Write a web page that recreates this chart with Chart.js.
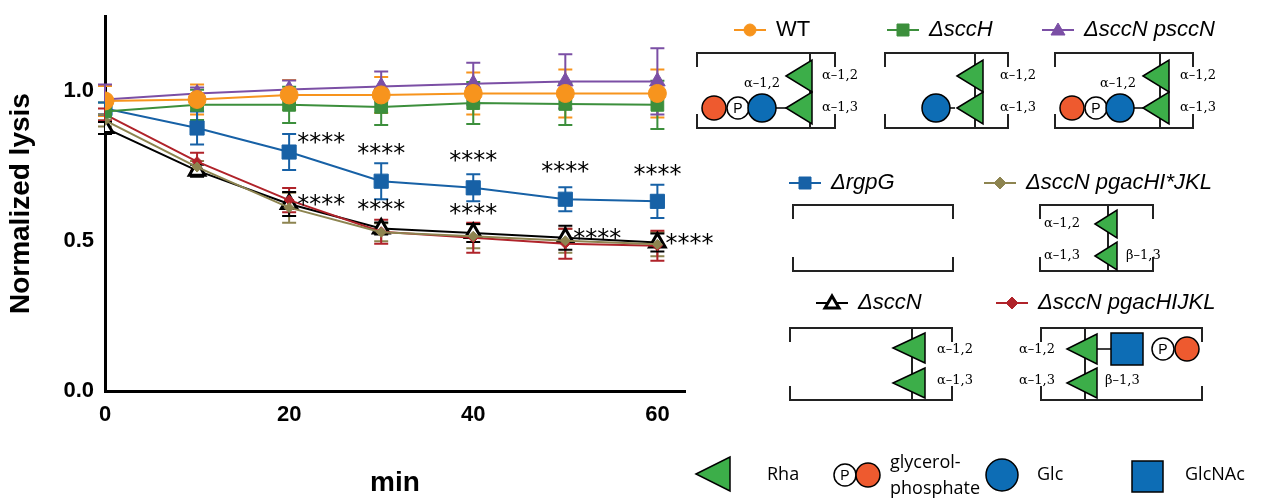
<!DOCTYPE html>
<html>
<head>
<meta charset="utf-8">
<script src="https://cdn.jsdelivr.net/npm/chart.js@4/dist/chart.umd.min.js"></script>
<style>
  html, body { margin: 0; padding: 0; background: #fff; }
  #wrap { width: 1280px; height: 504px; position: relative; }
</style>
</head>
<body>
<div id="wrap"><canvas id="chart" width="1280" height="504"></canvas></div>
<script>
// 시간 (min)
const minutes = [0, 10, 20, 30, 40, 50, 60];

// 각 균주의 값과 오차
const wt = [0.965, 0.97, 0.985, 0.985, 0.99, 0.99, 0.99];
const wtErr = [0.05, 0.05, 0.05, 0.06, 0.07, 0.08, 0.08];
const sccH = [0.93, 0.952, 0.952, 0.945, 0.958, 0.955, 0.952];
const sccHErr = [0.03, 0.05, 0.06, 0.06, 0.07, 0.07, 0.08];
const psccN = [0.97, 0.99, 1.003, 1.013, 1.022, 1.03, 1.03];
const psccNErr = [0.05, 0.02, 0.03, 0.05, 0.07, 0.09, 0.11];
const rgpG = [0.94, 0.875, 0.795, 0.698, 0.676, 0.638, 0.631];
const rgpGErr = [0.02, 0.055, 0.06, 0.06, 0.045, 0.04, 0.055];
const hiStar = [0.9, 0.745, 0.61, 0.528, 0.515, 0.5, 0.488];
const hiStarErr = [0.02, 0.02, 0.05, 0.03, 0.04, 0.04, 0.04];
const sccN = [0.875, 0.733, 0.622, 0.541, 0.526, 0.51, 0.494];
const sccNErr = [0.02, 0.02, 0.04, 0.02, 0.03, 0.04, 0.03];
const hijkl = [0.92, 0.763, 0.635, 0.53, 0.51, 0.49, 0.483];
const hijklErr = [0.02, 0.03, 0.04, 0.04, 0.05, 0.05, 0.05];

// 별표 표시 위치 (rgpG, sccN)
const starRgpG = [20, 30, 40, 50, 60];
const starSccN = [20, 30, 40, 50, 60];

const GREEN = '#3cae49', BLUE = '#0d6db5', RED = '#ee5a2f';

function ds(label, data, err, color, style, radius, fill) {
    return {
        label, data, err,
        borderColor: color, backgroundColor: fill || color,
        pointBorderColor: style === 'triangle' && fill ? '#000' : color,
        pointStyle: style, pointRadius: radius, pointBorderWidth: fill ? 3 : 1,
        borderWidth: 2, tension: 0
    };
}

const datasets = [
    ds('WT', wt, wtErr, '#f7941d', 'circle', 9),
    ds('ΔsccH', sccH, sccHErr, '#3c8f3c', 'rect', 9),
    ds('ΔsccN psccN', psccN, psccNErr, '#7b4fa5', 'triangle', 9),
    ds('ΔrgpG', rgpG, rgpGErr, '#1761a6', 'rect', 10),
    ds('ΔsccN pgacHI*JKL', hiStar, hiStarErr, '#8d8450', 'rectRot', 5),
    ds('ΔsccN pgacHIJKL', hijkl, hijklErr, '#b0232a', 'rectRot', 5),
    ds('ΔsccN', sccN, sccNErr, '#000', 'triangle', 9, '#fff')
];

// 오차 막대 그리기
const errorBars = {
    id: 'errorBars',
    beforeDatasetsDraw(chart) {
        const ctx = chart.ctx, x = chart.scales.x, y = chart.scales.y;
        chart.data.datasets.forEach(d => {
            ctx.save();
            ctx.strokeStyle = d.borderColor;
            ctx.lineWidth = 2;
            d.data.forEach((p, i) => {
                const px = x.getPixelForValue(p.x);
                const top = y.getPixelForValue(p.y + d.err[i]);
                const bot = y.getPixelForValue(p.y - d.err[i]);
                ctx.beginPath();
                ctx.moveTo(px, top); ctx.lineTo(px, bot);
                ctx.moveTo(px - 7, top); ctx.lineTo(px + 7, top);
                ctx.moveTo(px - 7, bot); ctx.lineTo(px + 7, bot);
                ctx.stroke();
            });
            ctx.restore();
        });
    },
    afterDatasetsDraw(chart) {
        const ctx = chart.ctx, x = chart.scales.x, y = chart.scales.y;
        ctx.save();
        ctx.fillStyle = '#000';
        ctx.font = '24px "DejaVu Sans"';
        ctx.textBaseline = 'middle';
        starRgpG.forEach(m => {
            const i = minutes.indexOf(m);
            const px = x.getPixelForValue(m), py = y.getPixelForValue(rgpG[i]);
            if (m === 20) { ctx.textAlign = 'left'; ctx.fillText('****', px + 8, py - 8); }
            else { ctx.textAlign = 'center'; ctx.fillText('****', px, py - 26); }
        });
        starSccN.forEach(m => {
            const i = minutes.indexOf(m);
            const px = x.getPixelForValue(m), py = y.getPixelForValue(sccN[i]);
            if (m === 30 || m === 40) { ctx.textAlign = 'center'; ctx.fillText('****', px, py - 18); }
            else { ctx.textAlign = 'left'; ctx.fillText('****', px + 8, py + 2); }
        });
        ctx.restore();
    }
};

// 오른쪽 도식 그리기 함수들
function tri(ctx, tipX, cy, w, h) {
    ctx.beginPath();
    ctx.moveTo(tipX, cy); ctx.lineTo(tipX + w, cy - h / 2); ctx.lineTo(tipX + w, cy + h / 2); ctx.closePath();
    ctx.fillStyle = GREEN; ctx.fill(); ctx.lineWidth = 1.5; ctx.strokeStyle = '#000'; ctx.stroke();
}
function circ(ctx, cx, cy, r, fill, label) {
    ctx.beginPath(); ctx.arc(cx, cy, r, 0, Math.PI * 2);
    ctx.fillStyle = fill; ctx.fill(); ctx.lineWidth = 1.5; ctx.strokeStyle = '#000'; ctx.stroke();
    if (label) {
        ctx.fillStyle = '#000'; ctx.font = '14px "Liberation Sans"';
        ctx.textAlign = 'center'; ctx.textBaseline = 'middle'; ctx.fillText(label, cx, cy + 1);
    }
}
function sq(ctx, x, y, s) {
    ctx.fillStyle = BLUE; ctx.fillRect(x, y, s, s);
    ctx.lineWidth = 1.5; ctx.strokeStyle = '#000'; ctx.strokeRect(x, y, s, s);
}
function line(ctx, x1, y1, x2, y2) {
    ctx.beginPath(); ctx.moveTo(x1, y1); ctx.lineTo(x2, y2);
    ctx.lineWidth = 1.5; ctx.strokeStyle = '#000'; ctx.stroke();
}
function box(ctx, l, r, t, b, vx) {
    ctx.lineWidth = 2; ctx.strokeStyle = '#222';
    ctx.beginPath();
    ctx.moveTo(l, t + 14); ctx.lineTo(l, t); ctx.lineTo(r, t); ctx.lineTo(r, t + 14);
    ctx.moveTo(l, b - 14); ctx.lineTo(l, b); ctx.lineTo(r, b); ctx.lineTo(r, b - 14);
    if (vx) { ctx.moveTo(vx, t); ctx.lineTo(vx, b); }
    ctx.stroke();
}
function link(ctx, txt, x, y, align) {
    ctx.fillStyle = '#000'; ctx.font = '13px "DejaVu Serif"';
    ctx.textAlign = align || 'left'; ctx.textBaseline = 'middle'; ctx.fillText(txt, x, y);
}
function legendItem(ctx, x, y, color, shape, text, hollow) {
    ctx.beginPath(); ctx.moveTo(x - 16, y); ctx.lineTo(x + 16, y);
    ctx.strokeStyle = color; ctx.lineWidth = 2; ctx.stroke();
    ctx.fillStyle = hollow ? '#fff' : color; ctx.strokeStyle = hollow ? '#000' : color; ctx.lineWidth = hollow ? 3 : 1;
    ctx.beginPath();
    if (shape === 'circle') ctx.arc(x, y, 6, 0, Math.PI * 2);
    else if (shape === 'rect') ctx.rect(x - 6, y - 6, 12, 12);
    else if (shape === 'triangle') { ctx.moveTo(x, y - 7); ctx.lineTo(x + 7, y + 5); ctx.lineTo(x - 7, y + 5); ctx.closePath(); }
    else { ctx.moveTo(x, y - 6); ctx.lineTo(x + 6, y); ctx.lineTo(x, y + 6); ctx.lineTo(x - 6, y); ctx.closePath(); }
    ctx.fill(); ctx.stroke();
    ctx.fillStyle = '#000';
    ctx.font = (text === 'WT' ? '' : 'italic ') + '22px "Liberation Sans"';
    ctx.textAlign = 'left'; ctx.textBaseline = 'middle';
    ctx.fillText(text, x + 26, y);
}

const diagrams = {
    id: 'diagrams',
    afterDraw(chart) {
        const ctx = chart.ctx;
        ctx.save();
        const c = chart.data.datasets;
        legendItem(ctx, 750, 30, c[0].borderColor, 'circle', 'WT');
        legendItem(ctx, 903, 30, c[1].borderColor, 'rect', 'ΔsccH');
        legendItem(ctx, 1058, 30, c[2].borderColor, 'triangle', 'ΔsccN psccN');
        legendItem(ctx, 805, 183, c[3].borderColor, 'rect', 'ΔrgpG');
        legendItem(ctx, 1000, 183, c[4].borderColor, 'diamond', 'ΔsccN pgacHI*JKL');
        legendItem(ctx, 832, 303, c[6].borderColor, 'triangle', 'ΔsccN', true);
        legendItem(ctx, 1012, 303, c[5].borderColor, 'diamond', 'ΔsccN pgacHIJKL');

        // WT
        box(ctx, 697, 835, 53, 128, 810);
        line(ctx, 762, 108, 790, 108);
        tri(ctx, 786, 76, 26, 32); tri(ctx, 786, 108, 26, 32);
        circ(ctx, 714, 108, 12, RED); circ(ctx, 738, 108, 11, '#fff', 'P'); circ(ctx, 762, 108, 14, BLUE);
        link(ctx, 'α–1,2', 822, 76); link(ctx, 'α–1,3', 822, 108); link(ctx, 'α–1,2', 762, 84, 'center');
        // ΔsccH
        box(ctx, 885, 1008, 53, 128, 975);
        line(ctx, 936, 108, 955, 108);
        tri(ctx, 957, 76, 26, 32); tri(ctx, 957, 108, 26, 32);
        circ(ctx, 936, 108, 14, BLUE);
        link(ctx, 'α–1,2', 1000, 76); link(ctx, 'α–1,3', 1000, 108);
        // ΔsccN psccN
        box(ctx, 1055, 1193, 53, 128, 1160);
        line(ctx, 1120, 108, 1145, 108);
        tri(ctx, 1143, 76, 26, 32); tri(ctx, 1143, 108, 26, 32);
        circ(ctx, 1072, 108, 12, RED); circ(ctx, 1096, 108, 11, '#fff', 'P'); circ(ctx, 1120, 108, 14, BLUE);
        link(ctx, 'α–1,2', 1180, 76); link(ctx, 'α–1,3', 1180, 108); link(ctx, 'α–1,2', 1118, 84, 'center');
        // ΔrgpG
        box(ctx, 793, 953, 205, 271);
        // ΔsccN pgacHI*JKL
        box(ctx, 1040, 1153, 205, 271, 1108);
        tri(ctx, 1095, 224, 22, 28); tri(ctx, 1095, 256, 22, 28);
        link(ctx, 'α–1,2', 1044, 224); link(ctx, 'α–1,3', 1044, 256); link(ctx, 'β–1,3', 1126, 256);
        // ΔsccN
        box(ctx, 790, 952, 328, 400, 912);
        tri(ctx, 893, 348, 32, 30); tri(ctx, 893, 383, 32, 30);
        link(ctx, 'α–1,2', 937, 350); link(ctx, 'α–1,3', 937, 381);
        // ΔsccN pgacHIJKL
        box(ctx, 1041, 1202, 328, 400, 1085);
        line(ctx, 1097, 349, 1111, 349);
        tri(ctx, 1067, 349, 30, 30); tri(ctx, 1067, 383, 30, 30);
        sq(ctx, 1111, 333, 32);
        circ(ctx, 1163, 349, 11, '#fff', 'P'); circ(ctx, 1187, 349, 12, RED);
        link(ctx, 'α–1,2', 1055, 350, 'right'); link(ctx, 'α–1,3', 1055, 381, 'right'); link(ctx, 'β–1,3', 1105, 381);

        // 범례 (단당류)
        tri(ctx, 696, 474, 34, 34);
        ctx.fillStyle = '#000'; ctx.font = '18px "Open Sans"'; ctx.textAlign = 'left'; ctx.textBaseline = 'middle';
        ctx.fillText('Rha', 767, 475);
        circ(ctx, 845, 475, 11, '#fff', 'P'); circ(ctx, 868, 475, 12, RED);
        ctx.fillStyle = '#000'; ctx.font = '18px "Open Sans"'; ctx.textAlign = 'left';
        ctx.fillText('glycerol-', 890, 463); ctx.fillText('phosphate', 890, 489);
        circ(ctx, 1002, 475, 16, BLUE);
        ctx.fillStyle = '#000'; ctx.font = '18px "Open Sans"'; ctx.textAlign = 'left';
        ctx.fillText('Glc', 1037, 475);
        sq(ctx, 1132, 461, 31);
        ctx.fillStyle = '#000'; ctx.font = '18px "Open Sans"'; ctx.textAlign = 'left';
        ctx.fillText('GlcNAc', 1185, 475);
        ctx.restore();
    }
};

new Chart(document.getElementById('chart'), {
    type: 'line',
    data: {
        datasets: datasets.map(d => ({ ...d, data: d.data.map((v, i) => ({ x: minutes[i], y: v })) }))
    },
    options: {
        responsive: false,
        animation: false,
        layout: { padding: { top: 2, right: 595, left: 0, bottom: 0 } },
        plugins: { legend: { display: false }, tooltip: { enabled: false } },
        scales: {
            x: {
                type: 'linear', min: 0, max: 63,
                afterFit: s => { s.height = 113; },
                afterBuildTicks: s => { s.ticks = [0, 10, 20, 30, 40, 50, 60].map(v => ({ value: v })); },
                grid: { display: false, drawTicks: true, tickLength: 8, tickColor: '#000', tickWidth: 3 },
                border: { color: '#000', width: 3 },
                ticks: {
                    color: '#000', font: { size: 22, weight: 'bold', family: 'Liberation Sans' },
                    callback: v => v % 20 === 0 ? v : ''
                },
                title: { display: true, text: 'min', color: '#000', font: { size: 28, weight: 'bold', family: 'Liberation Sans' }, padding: { top: 18 } }
            },
            y: {
                min: 0, max: 1.247,
                afterFit: s => { s.width = 105; },
                afterBuildTicks: s => { s.ticks = [0, 0.5, 1].map(v => ({ value: v })); },
                grid: { display: false, drawTicks: true, tickLength: 8, tickColor: '#000', tickWidth: 3 },
                border: { color: '#000', width: 3 },
                ticks: { color: '#000', font: { size: 22, weight: 'bold', family: 'Liberation Sans' }, callback: v => v.toFixed(1) },
                title: { display: true, text: 'Normalized lysis', color: '#000', font: { size: 28, weight: 'bold', family: 'Liberation Sans' } }
            }
        }
    },
    plugins: [errorBars, diagrams]
});
</script>
</body>
</html>
